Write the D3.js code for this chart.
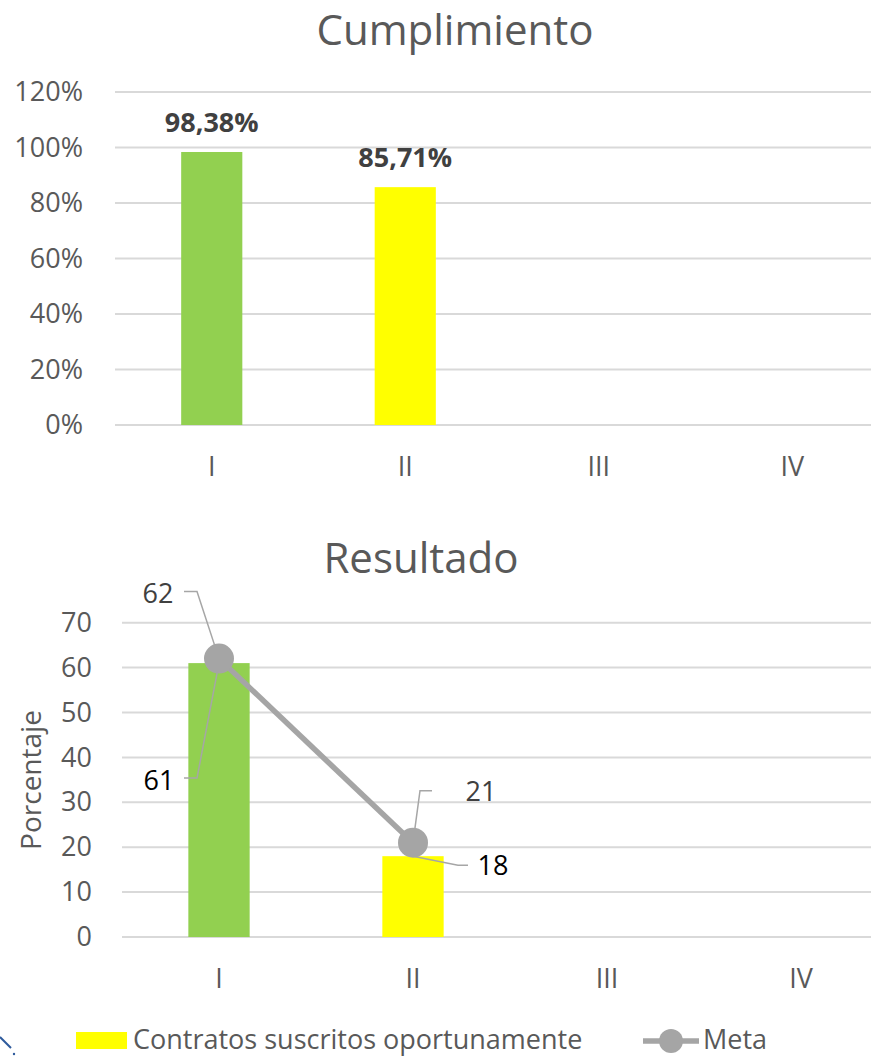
<!DOCTYPE html>
<html>
<head>
<meta charset="utf-8">
<script src="https://cdn.jsdelivr.net/npm/d3@7"></script>
<style>
  html, body { margin: 0; padding: 0; background: #fff; }
  svg { display: block; }
  text { font-family: "Open Sans", sans-serif; }
</style>
</head>
<body>
<svg id="chart" width="871" height="1056"></svg>
<script>
// Quarters shared by both panels
const quarters = ["I", "II", "III", "IV"];

// Compliance per quarter (fraction); only I and II reported
const cumplimiento = [0.9838, 0.8571, null, null];
const cumplimientoLabels = ["98,38%", "85,71%", null, null];
const cumplimientoColors = ["#92d050", "#ffff00", null, null];

// Result: contracts signed on time vs. target
const contratos = [61, 18, null, null];
const meta = [62, 21, null, null];
const resultadoColors = ["#92d050", "#ffff00", null, null];

// Axis ticks
const pctTicks = [0, 0.2, 0.4, 0.6, 0.8, 1.0, 1.2];
const resTicks = [0, 10, 20, 30, 40, 50, 60, 70];

const svg = d3.select("#chart");
const W = 871;
const gridColor = "#d9d9d9";
const textColor = "#595959";
const labelColor = "#404040";
const metaColor = "#a5a5a5";

function bandScale(x0, x1) {
  return d3.scaleBand().domain(quarters).range([x0, x1])
    .paddingInner(0.684).paddingOuter(0.342);
}

// ---------- Panel 1: Cumplimiento ----------
{
  const x = bandScale(115, 889);
  const y = d3.scaleLinear().domain([0, 1.2]).range([425, 92]);
  const g = svg.append("g");

  g.append("text").attr("x", 455).attr("y", 45).attr("text-anchor", "middle")
    .attr("font-size", 42).attr("fill", textColor).text("Cumplimiento");

  g.selectAll(".grid").data(pctTicks).join("line")
    .attr("x1", 115).attr("x2", W)
    .attr("y1", d => y(d)).attr("y2", d => y(d))
    .attr("stroke", gridColor).attr("stroke-width", 2);

  const yAxis = d3.axisLeft(y).tickValues(pctTicks).tickSize(0).tickPadding(0)
    .tickFormat(d3.format(".0%"));
  const ya = g.append("g").attr("transform", "translate(83,0)").call(yAxis);
  ya.select(".domain").remove();
  ya.selectAll("text").attr("font-size", 27).attr("fill", textColor)
    .attr("font-family", "Open Sans, sans-serif");

  const xAxis = d3.axisBottom(x).tickSize(0).tickPadding(0);
  const xa = g.append("g").attr("transform", "translate(0,425)").call(xAxis);
  xa.select(".domain").remove();
  xa.selectAll("text").attr("font-size", 27).attr("fill", textColor)
    .attr("font-family", "Open Sans, sans-serif").attr("dy", 0).attr("y", 51);

  const rows = quarters.map((q, i) => ({ q, v: cumplimiento[i], lab: cumplimientoLabels[i], c: cumplimientoColors[i] }))
    .filter(d => d.v != null);

  g.selectAll(".bar").data(rows).join("rect")
    .attr("x", d => x(d.q)).attr("width", x.bandwidth())
    .attr("y", d => y(d.v)).attr("height", d => y(0) - y(d.v))
    .attr("fill", d => d.c);

  g.selectAll(".lab").data(rows).join("text")
    .attr("x", d => x(d.q) + x.bandwidth() / 2)
    .attr("y", d => y(d.v) - 20)
    .attr("text-anchor", "middle").attr("font-size", 27).attr("font-weight", "bold")
    .attr("fill", labelColor).text(d => d.lab);
}

// ---------- Panel 2: Resultado ----------
{
  const x = bandScale(122, 898);
  const y = d3.scaleLinear().domain([0, 70]).range([937, 622.7]);
  const g = svg.append("g");
  const cx = q => x(q) + x.bandwidth() / 2;

  g.append("text").attr("x", 421).attr("y", 573).attr("text-anchor", "middle")
    .attr("font-size", 42).attr("fill", textColor).text("Resultado");

  g.append("text").attr("transform", "translate(41,780) rotate(-90)")
    .attr("text-anchor", "middle").attr("font-size", 28).attr("fill", textColor)
    .text("Porcentaje");

  g.selectAll(".grid").data(resTicks).join("line")
    .attr("x1", 122).attr("x2", W)
    .attr("y1", d => y(d)).attr("y2", d => y(d))
    .attr("stroke", gridColor).attr("stroke-width", 2);

  const yAxis = d3.axisLeft(y).tickValues(resTicks).tickSize(0).tickPadding(0);
  const ya = g.append("g").attr("transform", "translate(92,0)").call(yAxis);
  ya.select(".domain").remove();
  ya.selectAll("text").attr("font-size", 27).attr("fill", textColor)
    .attr("font-family", "Open Sans, sans-serif");

  const xAxis = d3.axisBottom(x).tickSize(0).tickPadding(0);
  const xa = g.append("g").attr("transform", "translate(0,937)").call(xAxis);
  xa.select(".domain").remove();
  xa.selectAll("text").attr("font-size", 27).attr("fill", textColor)
    .attr("font-family", "Open Sans, sans-serif").attr("dy", 0).attr("y", 51);

  const bars = quarters.map((q, i) => ({ q, v: contratos[i], c: resultadoColors[i] })).filter(d => d.v != null);
  const pts = quarters.map((q, i) => ({ q, v: meta[i] })).filter(d => d.v != null);

  g.selectAll(".bar").data(bars).join("rect")
    .attr("x", d => x(d.q)).attr("width", x.bandwidth())
    .attr("y", d => y(d.v)).attr("height", d => y(0) - y(d.v))
    .attr("fill", d => d.c);

  // Callout labels: text offset and leader elbow relative to the data point
  const callouts = [
    { q: "I",  v: contratos[0], fill: "#000",    tx: -60, ty: 117, a: [-35, 115], b: [-22, 115] },
    { q: "II", v: contratos[1], fill: "#000",    tx: 80,  ty: 9,   a: [55, 9],    b: [45, 9] },
    { q: "I",  v: meta[0],      fill: labelColor, tx: -61, ty: -65, a: [-35, -67], b: [-22, -67] },
    { q: "II", v: meta[1],      fill: labelColor, tx: 68,  ty: -51, a: [19, -52],  b: [7, -52] }
  ];

  g.selectAll(".leader").data(callouts).join("polyline")
    .attr("points", d => {
      const px = cx(d.q), py = y(d.v);
      return [[px + d.a[0], py + d.a[1]], [px + d.b[0], py + d.b[1]], [px, py]].map(p => p.join(",")).join(" ");
    })
    .attr("fill", "none").attr("stroke", "#a6a6a6").attr("stroke-width", 1.5);

  const line = d3.line().x(d => cx(d.q)).y(d => y(d.v));
  g.append("path").datum(pts).attr("d", line)
    .attr("fill", "none").attr("stroke", metaColor).attr("stroke-width", 5.5);

  g.selectAll(".dot").data(pts).join("circle")
    .attr("cx", d => cx(d.q)).attr("cy", d => y(d.v)).attr("r", 15)
    .attr("fill", metaColor);

  g.selectAll(".clab").data(callouts).join("text")
    .attr("x", d => cx(d.q) + d.tx).attr("y", d => y(d.v) + d.ty + 9.5)
    .attr("text-anchor", "middle").attr("font-size", 27).attr("fill", d => d.fill)
    .text(d => d.v);

  // Legend
  const lg = svg.append("g");
  lg.append("rect").attr("x", 76).attr("y", 1032).attr("width", 51).attr("height", 17).attr("fill", "#ffff00");
  lg.append("text").attr("x", 133).attr("y", 1049).attr("font-size", 27).attr("fill", textColor)
    .text("Contratos suscritos oportunamente");
  lg.append("line").attr("x1", 643).attr("x2", 699).attr("y1", 1041).attr("y2", 1041)
    .attr("stroke", metaColor).attr("stroke-width", 5.5);
  lg.append("circle").attr("cx", 671).attr("cy", 1041).attr("r", 12).attr("fill", metaColor);
  lg.append("text").attr("x", 703).attr("y", 1049).attr("font-size", 27).attr("fill", textColor)
    .text("Meta");
}

// Corner mark of the page logo
svg.append("path").attr("d", "M0,1037 L11,1048").attr("stroke", "#2e5a9c")
  .attr("stroke-width", 2).attr("fill", "none");
svg.append("circle").attr("cx", 14).attr("cy", 1054).attr("r", 1.2).attr("fill", "#2e5a9c");
</script>
</body>
</html>
